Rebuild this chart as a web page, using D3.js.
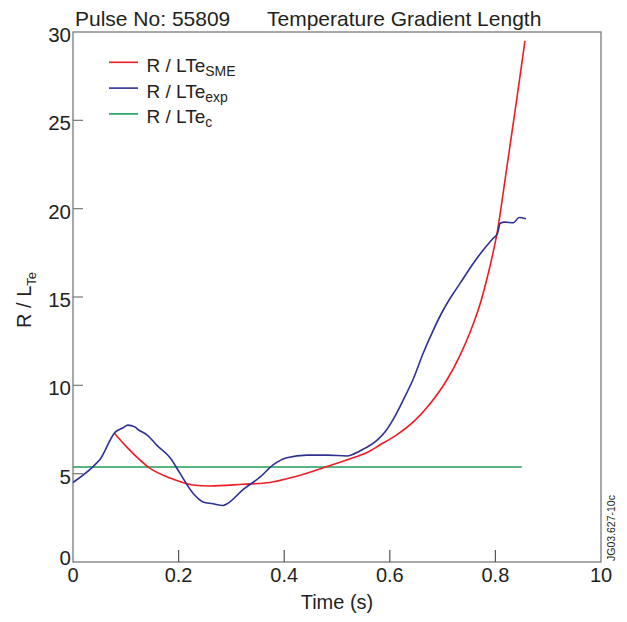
<!DOCTYPE html>
<html>
<head>
<meta charset="utf-8">
<script src="https://cdn.jsdelivr.net/npm/d3@7"></script>
<style>
  body { margin: 0; background: #fff; }
  text { font-family: "Liberation Sans", Arial, sans-serif; fill: #231f20; }
</style>
</head>
<body>
<script>
// values
const xTicks = [0, 0.2, 0.4, 0.6, 0.8, 1.0];
const xTickLabels = ['0', '0.2', '0.4', '0.6', '0.8', '10'];
const yTicks = [0, 5, 10, 15, 20, 25, 30];

const smeT = [0.078, 0.102, 0.146, 0.184, 0.227, 0.259, 0.322, 0.373, 0.417, 0.481, 0.525, 0.557, 0.581, 0.613, 0.645, 0.676, 0.708, 0.733, 0.752, 0.771, 0.787, 0.803, 0.821, 0.840, 0.856];
const smeV = [7.3, 6.5, 5.3, 4.75, 4.36, 4.3, 4.4, 4.5, 4.8, 5.4, 5.85, 6.2, 6.62, 7.2, 7.95, 8.95, 10.3, 11.7, 13.0, 14.6, 16.4, 18.6, 22.2, 26.1, 29.5];

const expT = [0, 0.038, 0.051, 0.080, 0.095, 0.104, 0.117, 0.123, 0.140, 0.159, 0.184, 0.203, 0.227, 0.246, 0.265, 0.284, 0.292, 0.322, 0.354, 0.379, 0.405, 0.443, 0.481, 0.519, 0.544, 0.576, 0.592, 0.607, 0.626, 0.645, 0.663, 0.682, 0.701, 0.718, 0.733, 0.758, 0.777, 0.795, 0.804, 0.809, 0.818, 0.834, 0.845, 0.858];
const expV = [4.5, 5.4, 5.8, 7.35, 7.6, 7.75, 7.65, 7.5, 7.2, 6.6, 5.9, 5.0, 3.9, 3.4, 3.3, 3.2, 3.3, 4.1, 4.8, 5.5, 5.9, 6.05, 6.05, 6.0, 6.3, 6.9, 7.4, 8.1, 9.2, 10.4, 11.8, 13.1, 14.25, 15.1, 15.77, 16.9, 17.66, 18.3, 18.6, 19.17, 19.24, 19.2, 19.5, 19.43];

const critT = [0, 0.85];
const critV = [5.38, 5.38];

const width = 627, height = 622;
const margin = { left: 73, right: 26, top: 32, bottom: 60 };

const svg = d3.select('body').append('svg')
  .attr('width', width)
  .attr('height', height);

const x = d3.scaleLinear().domain([0, 1]).range([margin.left, width - margin.right]);
const y = d3.scaleLinear().domain([0, 30]).range([height - margin.bottom, margin.top]);

// frame
svg.append('rect')
  .attr('x', x(0)).attr('y', y(30))
  .attr('width', x(1) - x(0)).attr('height', y(0) - y(30))
  .attr('fill', 'none').attr('stroke', '#7a7a7a').attr('stroke-width', 1.3);

// inward ticks
svg.append('g').selectAll('line')
  .data(xTicks.slice(1, -1)).enter().append('line')
  .attr('x1', d => x(d)).attr('x2', d => x(d))
  .attr('y1', y(0)).attr('y2', y(0) - 12)
  .attr('stroke', '#555').attr('stroke-width', 1.2);

svg.append('g').selectAll('line')
  .data(yTicks.slice(1, -1)).enter().append('line')
  .attr('x1', x(0)).attr('x2', x(0) + 10)
  .attr('y1', d => y(d)).attr('y2', d => y(d))
  .attr('stroke', '#777').attr('stroke-width', 1.2);

// tick labels
svg.append('g').selectAll('text')
  .data(xTicks).enter().append('text')
  .attr('x', d => x(d)).attr('y', y(0) + 20)
  .attr('text-anchor', 'middle').attr('font-size', 20)
  .text((d, i) => xTickLabels[i]);

svg.append('g').selectAll('text')
  .data(yTicks).enter().append('text')
  .attr('x', x(0) - 2).attr('y', d => y(d) + (d === 0 ? 3 : 10))
  .attr('text-anchor', 'end').attr('font-size', 20.5)
  .text(d => d);

// titles
svg.append('text').attr('x', 75).attr('y', 26).attr('font-size', 21).text('Pulse No: 55809');
svg.append('text').attr('x', 267).attr('y', 26).attr('font-size', 21).text('Temperature Gradient Length');

svg.append('text')
  .attr('x', (x(0) + x(1)) / 2).attr('y', 609)
  .attr('text-anchor', 'middle').attr('font-size', 20)
  .text('Time (s)');

const yl = svg.append('text')
  .attr('transform', `translate(31, 300) rotate(-90)`)
  .attr('text-anchor', 'middle').attr('font-size', 20);
yl.append('tspan').text('R / L');
yl.append('tspan').attr('font-size', 13).attr('dy', 5).text('Te');

svg.append('text')
  .attr('transform', `translate(615, 561) rotate(-90)`)
  .attr('font-size', 10.5).text('JG03.627-10c');

// lines
const line = d3.line().curve(d3.curveMonotoneX);
const series = [
  { t: critT, v: critV, color: '#1a9e5a', name: 'c' },
  { t: smeT, v: smeV, color: '#ee1c25', name: 'SME' },
  { t: expT, v: expV, color: '#2e3192', name: 'exp' }
];
series.forEach(s => {
  svg.append('path')
    .attr('d', line(s.t.map((t, i) => [x(t), y(s.v[i])])))
    .attr('fill', 'none').attr('stroke', s.color).attr('stroke-width', 1.6);
});

// legend
const legendItems = [series[1], series[2], series[0]];
const lg = svg.append('g');
legendItems.forEach((s, i) => {
  const ly = 62.3 + i * 25.8;
  lg.append('line').attr('x1', 109).attr('x2', 138).attr('y1', ly).attr('y2', ly)
    .attr('stroke', s.color).attr('stroke-width', 1.6);
  const t = lg.append('text').attr('x', 146.5).attr('y', ly + 9.5).attr('font-size', 19);
  t.append('tspan').text('R / LTe');
  t.append('tspan').attr('font-size', 14).attr('dy', 4).text(s.name);
});
</script>
</body>
</html>
